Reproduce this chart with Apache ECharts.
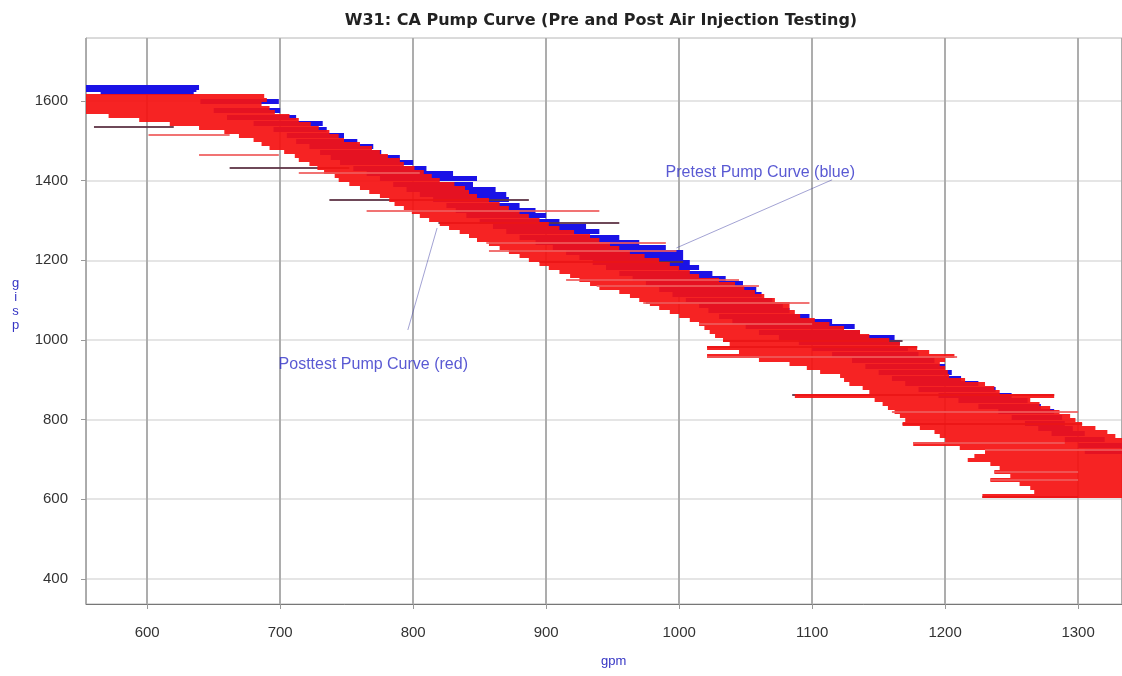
<!DOCTYPE html>
<html>
<head>
<meta charset="utf-8">
<script src="https://cdn.jsdelivr.net/npm/echarts@6/dist/echarts.min.js"></script>
<style>
html,body{margin:0;padding:0;background:#fff;}
#c{width:1122px;height:676px;}
</style>
</head>
<body>
<div id="c"></div>
<script>
// ---- DATA (gpm on x, psig on y); each trace segment: y, x-start, x-end ----
const postY  = [1612,1602,1592,1582,1572,1562,1552,1542,1532,1522,1512,1502,1492,1482,1472,1462,1452,1442,1432,1422,1412,1402,1392,1382,1372,1362,1352,1342,1332,1322,1312,1302,1292,1281,1271,1261,1251,1241,1231,1221,1211,1201,1191,1181,1171,1161,1151,1141,1131,1121,1110,1100,1090,1080,1070,1060,1050,1040,1030,1020,1010,1000,990,980,970,960,950,940,930,920,910,900,890,880,870,860,850,840,830,820,810,800,790,780,769,759,749,739,729,719,709,699,689,679,669,659,649,639,629,619,609];
const postX0 = [554,554,554,554,554,571,594,617,639,658,669,680,686,692,703,711,714,722,728,733,741,744,752,760,767,775,782,786,793,799,805,812,820,827,835,842,848,857,865,872,880,887,895,902,910,918,925,933,940,955,963,970,978,985,993,1000,1008,1015,1019,1023,1027,1033,1038,1021,1045,1021,1060,1083,1096,1106,1121,1124,1128,1138,1143,1087,1147,1153,1157,1162,1166,1170,1168,1181,1192,1196,1200,1176,1211,1230,1222,1217,1234,1241,1237,1249,1234,1256,1264,1267,1228];
const postX1 = [688,690,686,692,696,707,714,723,729,737,744,748,760,769,775,781,790,793,801,808,814,820,831,839,842,848,857,865,872,880,887,895,902,910,921,933,940,948,955,963,974,985,993,1000,1008,1015,1030,1042,1049,1057,1064,1072,1083,1083,1087,1091,1102,1113,1124,1136,1143,1158,1166,1179,1188,1207,1200,1196,1200,1202,1203,1215,1230,1237,1241,1282,1264,1271,1279,1286,1294,1298,1303,1313,1322,1328,1333,1333,1333,1333,1333,1333,1333,1333,1333,1333,1333,1333,1333,1333,1333];

const preY  = [1635,1629,1623,1600,1577,1560,1545,1530,1515,1500,1485,1472,1458,1445,1432,1418,1405,1392,1378,1365,1352,1338,1325,1312,1298,1285,1272,1258,1245,1232,1220,1207,1195,1182,1168,1155,1142,1128,1115,1100,1087,1074,1060,1047,1034,1020,1006,993,980,965,950,935,920,905,890,877,862,848,834,820,806,792,779,765,750,735,720];
const preX0 = [554,554,565,640,650,660,680,695,705,712,722,730,738,745,755,765,775,785,795,805,815,825,832,840,850,860,870,880,892,905,915,925,935,945,955,965,975,985,995,1005,1015,1022,1030,1040,1050,1060,1075,1090,1100,1115,1130,1140,1150,1160,1170,1180,1195,1210,1225,1240,1250,1260,1270,1280,1290,1300,1305];
const preX1 = [639,637,635,699,700,712,732,735,748,758,770,776,790,800,810,830,848,845,862,870,872,880,892,900,910,930,940,955,970,990,1003,1003,1008,1015,1025,1035,1048,1058,1062,1070,1078,1083,1098,1115,1132,1136,1162,1166,1172,1180,1192,1200,1205,1212,1225,1238,1250,1262,1272,1282,1288,1290,1296,1305,1320,1333,1333];

// stray post-test traces (light) and overlapping pre/post traces (dark)
const postStrayY  = [1515,1464,1420,1324,1244,1223,1151,1135,1093,1040,957,820,742,724,670,650];
const postStrayX0 = [601,639,714,765,855,857,915,938,973,1015,1021,1160,1176,1230,1237,1234];
const postStrayX1 = [662,699,805,940,990,998,1045,1060,1098,1100,1209,1300,1290,1333,1300,1300];
const overlapY  = [1535,1432,1352,1294,1196,1093,998,982,862,790,606];
const overlapX0 = [560,662,737,819,895,975,1033,1021,1085,1168,1228];
const overlapX1 = [620,752,887,955,1003,1083,1168,1179,1282,1303,1300];

const xTitle = 'gpm';
const yTitle = 'psig';
const chartTitle = 'W31: CA Pump Curve (Pre and Post Air Injection Testing)';
const annoText = ['Pretest Pump Curve (blue)', 'Posttest Pump Curve (red)'];
// annotation anchors in data units: [label point, leader start, leader end]
const annoLabelAt = [[1061,1419],[770,937]];
const annoLeader  = [[[1115,1402],[998,1231]], [[796,1025],[818,1281]]];

// ---- build ----
function segs(Y, X0, X1) {
  return Y.map((y, i) => ({ coords: [[X0[i], y], [X1[i], y]] }));
}
const FONT = 'Liberation Sans, Arial, sans-serif';
const chart = echarts.init(document.getElementById('c'), null, { renderer: 'canvas' });
const lineSeries = (name, data, color, width, opacity, z) => ({
  name, type: 'lines', coordinateSystem: 'cartesian2d', polyline: false,
  data, silent: true, animation: false, z,
  lineStyle: { color, width, opacity, cap: 'butt' }
});
chart.setOption({
  backgroundColor: '#ffffff',
  animation: false,
  title: {
    text: chartTitle, left: 596, top: 8, textAlign: 'center',
    textStyle: { fontFamily: 'DejaVu Sans, Liberation Sans, sans-serif', fontSize: 16, fontWeight: 'bold', color: '#222' }
  },
  grid: { left: 86, right: 0, top: 38, bottom: 72, show: true, borderColor: '#aaa', borderWidth: 1 },
  xAxis: {
    type: 'value', min: 554, max: 1333, splitNumber: 8,
    axisLine: { show: true, lineStyle: { color: '#777', width: 1 } },
    axisTick: { show: true, length: 5, lineStyle: { color: '#999' } },
    axisLabel: { fontFamily: FONT, fontSize: 15, color: '#333', margin: 21, showMinLabel: false, showMaxLabel: false, formatter: v => String(v) },
    splitLine: { show: true, lineStyle: { color: '#adadad', width: 2 } }
  },
  yAxis: {
    type: 'value', min: 337, max: 1758, splitNumber: 7,
    axisLine: { show: true, lineStyle: { color: '#aaa', width: 1 } },
    axisTick: { show: true, length: 5, lineStyle: { color: '#999' } },
    axisLabel: { fontFamily: FONT, fontSize: 15, color: '#333', margin: 18, showMinLabel: false, showMaxLabel: false, formatter: v => String(v) },
    splitLine: { show: true, lineStyle: { color: '#dddddd', width: 1.5 } }
  },
  graphic: [
    { type: 'text', left: 12, top: 276, style: { text: yTitle.split('').reverse().join('\n'), fill: '#3434c4', font: '13px ' + FONT, lineHeight: 14, textAlign: 'center' } },
    { type: 'text', left: 601, top: 655, style: { text: xTitle, fill: '#3434c4', font: '13px ' + FONT } }
  ],
  series: [
    lineSeries('Pretest', segs(preY, preX0, preX1), '#1a12e6', 5, 1, 2),
    lineSeries('Overlap', segs(overlapY, overlapX0, overlapX1), '#5e3446', 2, 0.9, 3),
    lineSeries('Posttest', segs(postY, postX0, postX1), '#f51212', 4.2, 0.93, 4),
    lineSeries('PosttestStray', segs(postStrayY, postStrayX0, postStrayX1), '#ee5a5a', 2, 0.85, 5),
    {
      type: 'lines', coordinateSystem: 'cartesian2d', silent: true, animation: false, z: 6,
      data: annoLeader.map(c => ({ coords: c })),
      lineStyle: { color: '#4646a8', width: 1 }
    },
    {
      type: 'scatter', silent: true, animation: false, z: 7, symbolSize: 1,
      itemStyle: { color: 'rgba(0,0,0,0)' },
      data: annoLabelAt.map((p, i) => ({ value: p, name: annoText[i] })),
      label: { show: true, position: 'inside', formatter: p => p.name, color: '#2f2fc8', fontFamily: FONT, fontSize: 16 }
    }
  ]
});
</script>
</body>
</html>
